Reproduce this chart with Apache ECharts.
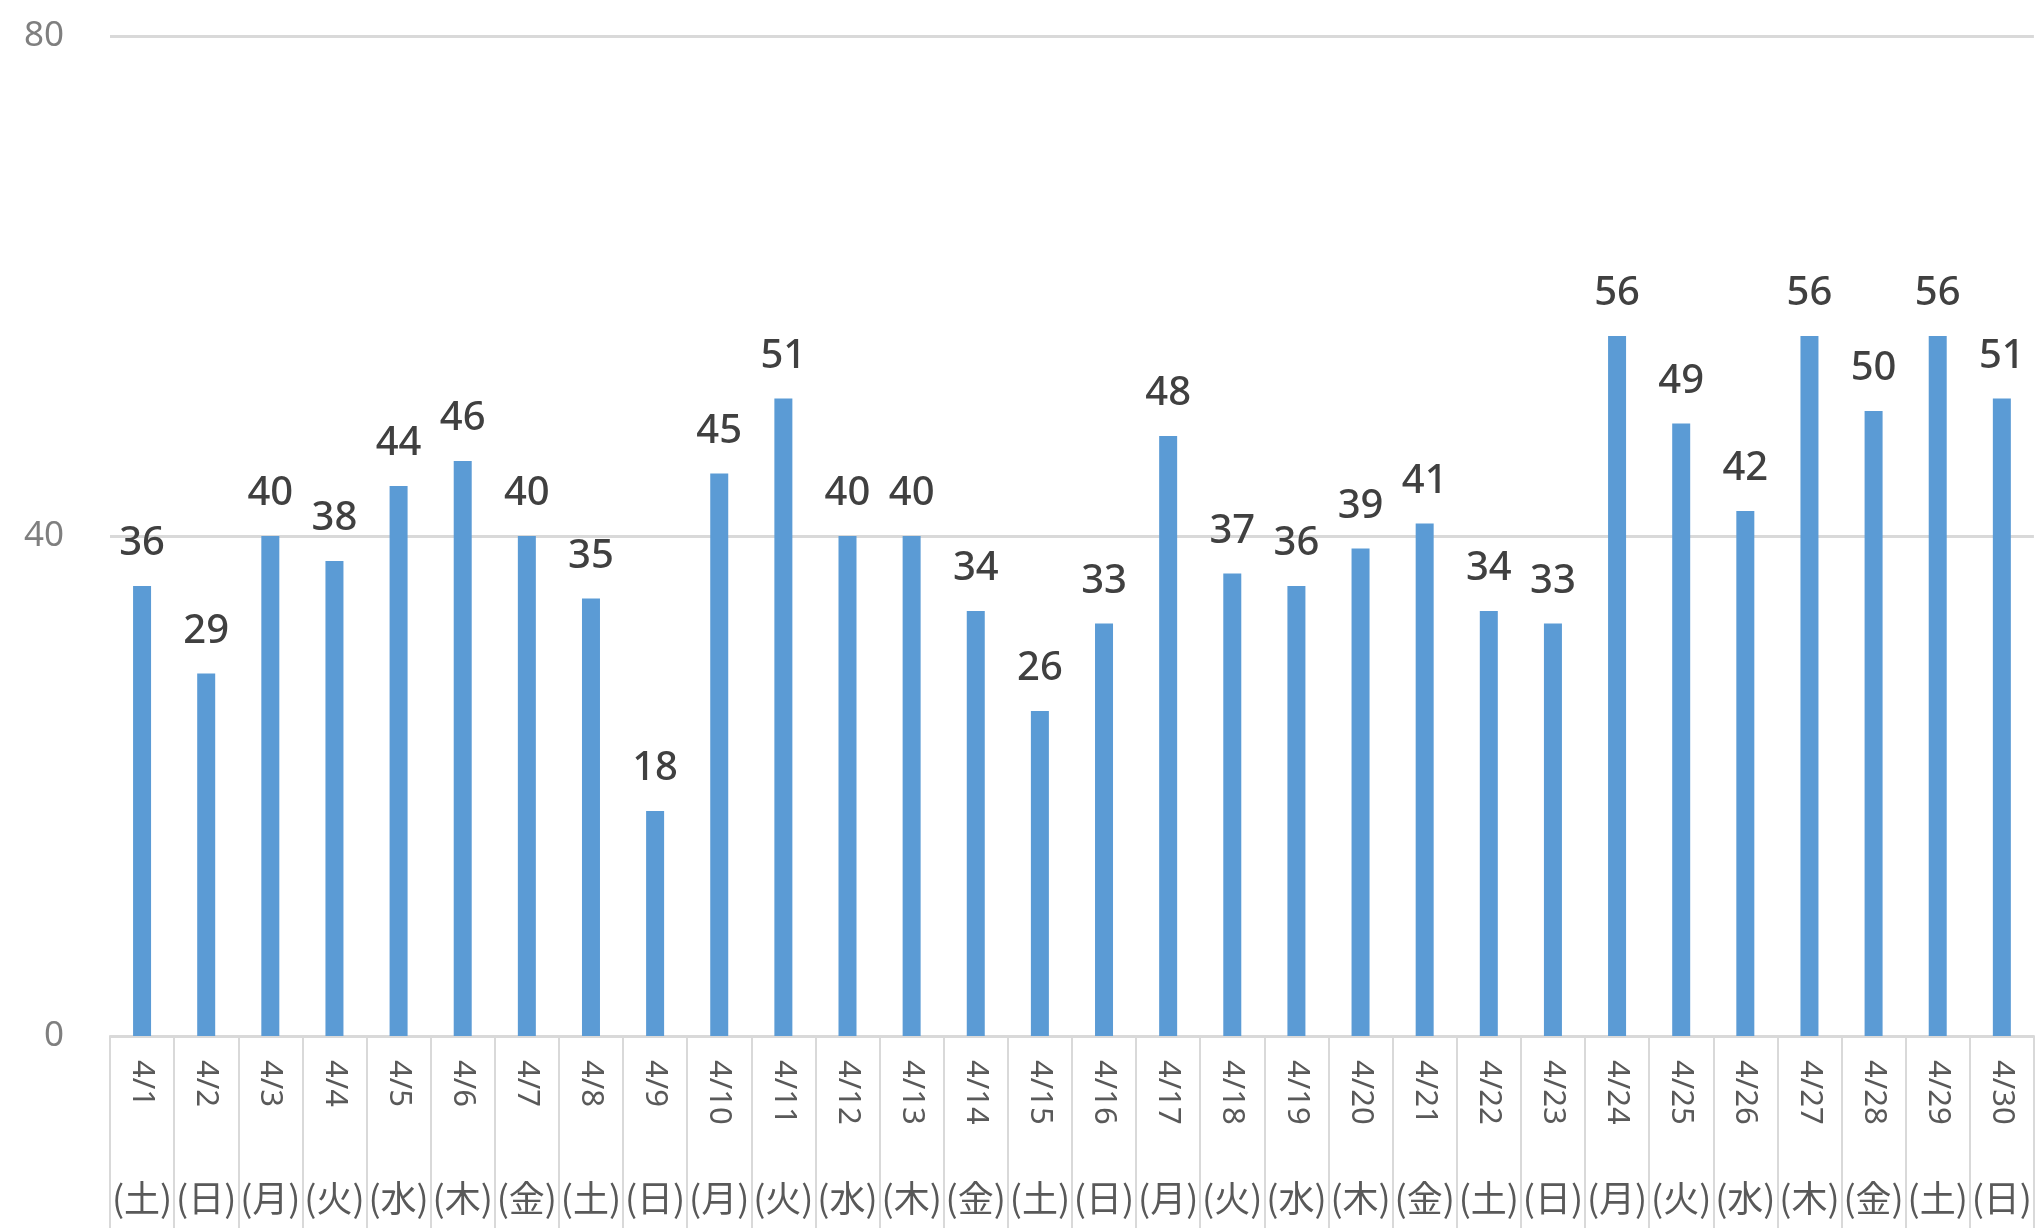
<!DOCTYPE html>
<html>
<head>
<meta charset="utf-8">
<script src="https://cdn.jsdelivr.net/npm/echarts@6/dist/echarts.min.js"></script>
<style>
  html, body { margin: 0; padding: 0; background: #fff; }
  #container { width: 2035px; height: 1228px; }
</style>
</head>
<body>
<div id="container"></div>
<script type="text/javascript">
  // 日付と曜日
  var days = ['4/1','4/2','4/3','4/4','4/5','4/6','4/7','4/8','4/9','4/10',
              '4/11','4/12','4/13','4/14','4/15','4/16','4/17','4/18','4/19','4/20',
              '4/21','4/22','4/23','4/24','4/25','4/26','4/27','4/28','4/29','4/30'];
  var weekdays = ['土','日','月','火','水','木','金','土','日','月',
                  '火','水','木','金','土','日','月','火','水','木',
                  '金','土','日','月','火','水','木','金','土','日'];
  var counts = [36,29,40,38,44,46,40,35,18,45,
                51,40,40,34,26,33,48,37,36,39,
                41,34,33,56,49,42,56,50,56,51];
  var yTicks = [0, 40, 80];

  var gridColor = '#d9d9d9';
  var textColor = '#595959';

  var dom = document.getElementById('container');
  var myChart = echarts.init(dom);
  myChart.setOption({
    animation: false,
    backgroundColor: '#fff',
    grid: {
      left: 110,
      right: 0,
      top: 36,
      bottom: 192
    },
    xAxis: [
      {
        type: 'category',
        data: days,
        boundaryGap: true,
        axisLine: { show: true, lineStyle: { color: gridColor, width: 2 } },
        axisTick: { show: true, interval: 0, length: 192, lineStyle: { color: gridColor, width: 2 } },
        axisLabel: {
          interval: 0,
          rotate: -90,
          margin: 24,
          color: textColor,
          fontSize: 31,
          fontFamily: 'Noto Sans'
        }
      },
      {
        type: 'category',
        position: 'bottom',
        data: weekdays,
        boundaryGap: true,
        axisLine: { show: false },
        axisTick: { show: false },
        axisLabel: {
          interval: 0,
          margin: 144,
          color: textColor,
          fontSize: 36,
          fontFamily: 'Noto Sans CJK JP',
          formatter: function (v) { return '(' + v + ')'; }
        }
      }
    ],
    yAxis: {
      type: 'value',
      min: yTicks[0],
      max: yTicks[yTicks.length - 1],
      interval: yTicks[1] - yTicks[0],
      axisLine: { show: false },
      axisTick: { show: false },
      splitLine: { show: true, lineStyle: { color: gridColor, width: 3 } },
      axisLabel: {
        margin: 46,
        color: '#7f7f7f',
        fontSize: 35,
        fontFamily: 'Noto Sans'
      }
    },
    series: [
      {
        type: 'bar',
        data: counts,
        barWidth: 18,
        itemStyle: { color: '#5b9bd5' },
        label: {
          show: true,
          position: 'top',
          distance: 22,
          color: '#404040',
          fontSize: 40,
          fontWeight: 500,
          fontFamily: 'Noto Sans'
        }
      }
    ]
  });
</script>
</body>
</html>
